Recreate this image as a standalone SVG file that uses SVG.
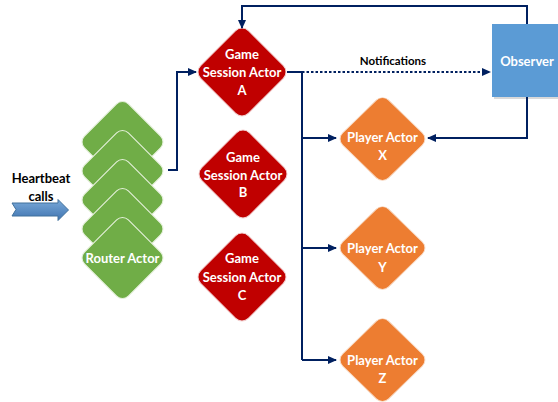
<svg xmlns="http://www.w3.org/2000/svg" xmlns:xlink="http://www.w3.org/1999/xlink" width="558" height="402" viewBox="0 0 558 402">
<defs>
<rect id="dia" x="-33.75" y="-33.75" width="67.5" height="67.5" rx="9" transform="rotate(45)"/>
<marker id="ah" markerUnits="userSpaceOnUse" markerWidth="9" markerHeight="8" refX="8" refY="4" orient="auto">
<path d="M0,0 L9,4 L0,8 Z" fill="#002060"/>
</marker>
<linearGradient id="hb" x1="0" y1="0" x2="0" y2="1">
<stop offset="0" stop-color="#7AAAD9"/>
<stop offset="1" stop-color="#3F73B0"/>
</linearGradient>
</defs>
<style>
.red{fill:#C00000;stroke:#F2D0D0;stroke-width:1}
.org{fill:#ED7D31;stroke:#F8DCC8;stroke-width:1}
.grn{fill:#70AD47;stroke:#E4F0DA;stroke-width:1.2}
.lbl{font-family:Lato,"Liberation Sans",sans-serif;font-weight:bold;font-size:13px;fill:#FFFFFF;text-anchor:middle}
.blk{font-family:Lato,"Liberation Sans",sans-serif;font-weight:bold;font-size:13px;fill:#000000;text-anchor:middle}
.ln{fill:none;stroke:#002060;stroke-width:2}
</style>

<g id="heartbeat">
<text class="blk" x="41" y="183">Heartbeat</text>
<text class="blk" x="41" y="201">calls</text>
<path d="M12,203 L58,203 L58,199.5 L68.5,210 L58,220.5 L58,216 L12,216 L16,209.5 Z" fill="url(#hb)" stroke="#41719C" stroke-width="1"/>
</g>

<g id="router">
<use xlink:href="#dia" class="grn" transform="translate(122.5,142) scale(0.92)"/>
<use xlink:href="#dia" class="grn" transform="translate(122.5,171) scale(0.92)"/>
<use xlink:href="#dia" class="grn" transform="translate(122.5,200) scale(0.92)"/>
<use xlink:href="#dia" class="grn" transform="translate(122.5,229) scale(0.92)"/>
<use xlink:href="#dia" class="grn" transform="translate(122.5,258) scale(0.92)"/>
<text class="lbl" x="122.5" y="262.5">Router Actor</text>
</g>

<g id="gameA">
<use xlink:href="#dia" class="red" transform="translate(242,72)"/>
<text class="lbl" x="242" y="58.5">Game</text>
<text class="lbl" x="242" y="76.5">Session Actor</text>
<text class="lbl" x="242" y="94.5">A</text>
</g>
<g id="gameB">
<use xlink:href="#dia" class="red" transform="translate(243,174)"/>
<text class="lbl" x="243" y="161.5">Game</text>
<text class="lbl" x="243" y="179.5">Session Actor</text>
<text class="lbl" x="243" y="196.5">B</text>
</g>
<g id="gameC">
<use xlink:href="#dia" class="red" transform="translate(242,277)"/>
<text class="lbl" x="242" y="262.5">Game</text>
<text class="lbl" x="242" y="281.5">Session Actor</text>
<text class="lbl" x="242" y="299.5">C</text>
</g>

<g id="playerX">
<use xlink:href="#dia" class="org" transform="translate(382.5,139) scale(0.965,0.94)"/>
<text class="lbl" x="382.5" y="141.5">Player Actor</text>
<text class="lbl" x="382.5" y="159.5">X</text>
</g>
<g id="playerY">
<use xlink:href="#dia" class="org" transform="translate(382.5,248) scale(0.965,0.94)"/>
<text class="lbl" x="382.5" y="252.5">Player Actor</text>
<text class="lbl" x="382.5" y="271.5">Y</text>
</g>
<g id="playerZ">
<use xlink:href="#dia" class="org" transform="translate(382.5,360) scale(0.965,0.94)"/>
<text class="lbl" x="382.5" y="364.5">Player Actor</text>
<text class="lbl" x="382.5" y="382.5">Z</text>
</g>

<g id="observer">
<rect x="494" y="26" width="66" height="73" fill="#BFBFBF" opacity="0.6"/>
<rect x="492" y="24" width="66" height="73" fill="#5B9BD5"/>
<text class="lbl" x="527" y="65.5">Observer</text>
</g>

<g id="connectors">
<path class="ln" d="M168,170 H177 V72 H196" marker-end="url(#ah)"/>
<path class="ln" d="M287,72 H302 V360"/>
<path class="ln" d="M302,138 H336" marker-end="url(#ah)"/>
<path class="ln" d="M302,248 H336" marker-end="url(#ah)"/>
<path class="ln" d="M302,360 H336" marker-end="url(#ah)"/>
<path class="ln" d="M302,72 H490" stroke-dasharray="2.5,2" stroke-width="1.8" marker-end="url(#ah)"/>
<text class="blk" x="393" y="65" style="font-size:11.5px">Notifications</text>
<path class="ln" d="M527,24 V6 H242 V28" marker-end="url(#ah)"/>
<path class="ln" d="M527,97 V138 H428" marker-end="url(#ah)"/>
</g>
</svg>
